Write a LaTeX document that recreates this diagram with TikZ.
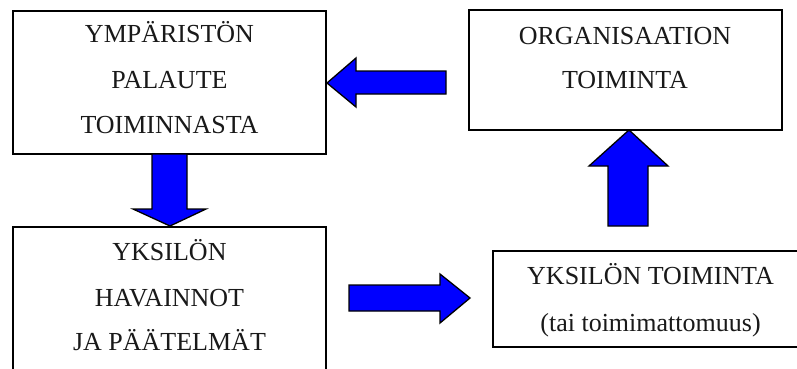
\documentclass[tikz,border=0pt]{standalone}
\usepackage{fontspec}
\setmainfont{Liberation Serif}
\begin{document}
\begin{tikzpicture}[x=1pt,y=-1pt,
  box/.style={draw=black,line width=1.3pt,fill=white,rectangle,inner sep=0pt},
  lbl/.style={anchor=base,inner sep=0pt,font=\fontsize{26}{30}\selectfont,text=black!90},
  blockarrow/.style={draw=black,line width=1.3pt,fill=blue,line join=miter}]
\clip (0,0) rectangle (797,369);
\fill[white] (0,0) rectangle (797,369);
% boxes
\node[box,minimum width=313pt,minimum height=143pt] (ymp) at (169.5,82.5) {};
\node[box,minimum width=313pt,minimum height=120pt] (org) at (625.5,70) {};
\node[box,minimum width=313pt,minimum height=200pt] (hav) at (169.5,327) {};
\node[box,minimum width=317pt,minimum height=96pt] (toi) at (651.5,299) {};
% texts
\node[lbl] (t1a) at (169.5,43) {YMPÄRISTÖN};
\node[lbl] (t1b) at (169.5,88) {PALAUTE};
\node[lbl] (t1c) at (169.5,133) {TOIMINNASTA};
\node[lbl] (t2a) at (625,45) {ORGANISAATION};
\node[lbl] (t2b) at (625,88) {TOIMINTA};
\node[lbl] (t3a) at (169.5,260) {YKSILÖN};
\node[lbl] (t3b) at (169.5,306) {HAVAINNOT};
\node[lbl] (t3c) at (169.5,350) {JA PÄÄTELMÄT};
\node[lbl] (t4a) at (650.5,284) {YKSILÖN TOIMINTA};
\node[lbl] (t4b) at (650.5,331) {(tai toimimattomuus)};
% block arrows
\draw[blockarrow] (327,83) -- (356,58) -- (356,71) -- (446,71) -- (446,94) -- (356,94) -- (356,107) -- cycle;
\draw[blockarrow] (629,130) -- (668,166) -- (648,166) -- (648,226) -- (608,226) -- (608,166) -- (589,166) -- cycle;
\draw[blockarrow] (170,226) -- (206,209) -- (187,209) -- (187,154) -- (152,154) -- (152,209) -- (133,209) -- cycle;
\draw[blockarrow] (470,298) -- (440,274) -- (440,285) -- (349,285) -- (349,311) -- (440,311) -- (440,323) -- cycle;
\end{tikzpicture}
\end{document}
